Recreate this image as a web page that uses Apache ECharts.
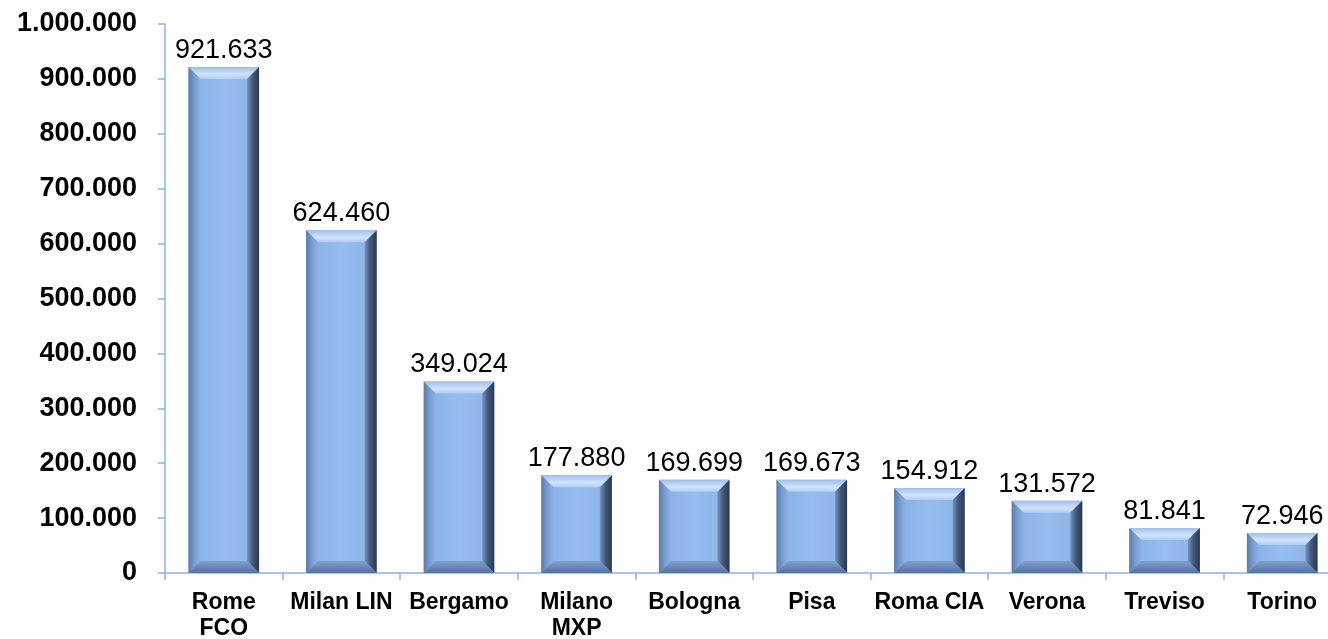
<!DOCTYPE html>
<html>
<head>
<meta charset="utf-8">
<script src="https://cdn.jsdelivr.net/npm/echarts@6/dist/echarts.min.js"></script>
<style>html,body{margin:0;padding:0;background:#fff;}#c{width:1328px;height:639px;}</style>
</head>
<body>
<div id="c"></div>
<script>
const categories = ['Rome\nFCO', 'Milan LIN', 'Bergamo', 'Milano\nMXP', 'Bologna', 'Pisa', 'Roma CIA', 'Verona', 'Treviso', 'Torino'];
const values = [921633, 624460, 349024, 177880, 169699, 169673, 154912, 131572, 81841, 72946];
const yMin = 0, yMax = 1000000, yStep = 100000;

function fmt(n) {
  return String(Math.round(n)).replace(/\B(?=(\d{3})+(?!\d))/g, '.');
}

const G = echarts.graphic;
const chart = echarts.init(document.getElementById('c'));
const axisColor = '#8db4e2';
const font = "'Liberation Sans', Arial, sans-serif";

chart.setOption({
  animation: false,
  grid: { left: 165, top: 24, bottom: 66, right: -13, containLabel: false, outerBoundsMode: 'none' },
  xAxis: {
    type: 'category',
    data: categories,
    boundaryGap: true,
    axisLine: { show: true, lineStyle: { color: axisColor, width: 1.5 } },
    axisTick: { show: true, length: 7, lineStyle: { color: axisColor, width: 1.5 } },
    axisLabel: { color: '#000', fontWeight: 'bold', fontSize: 23, fontFamily: font, margin: 17, lineHeight: 26, interval: 0 }
  },
  yAxis: {
    type: 'value',
    min: yMin, max: yMax, interval: yStep,
    axisLine: { show: true, lineStyle: { color: axisColor, width: 1.5 } },
    axisTick: { show: true, length: 7, lineStyle: { color: axisColor, width: 1.5 } },
    splitLine: { show: false },
    axisLabel: { color: '#000', fontWeight: 'bold', fontSize: 27, fontFamily: font, margin: 28, formatter: v => fmt(v) }
  },
  series: [{
    type: 'custom',
    data: values.map((v, i) => [i, v]),
    encode: { x: 0, y: 1 },
    renderItem: function (params, api) {
      const idx = api.value(0), v = api.value(1);
      const top = api.coord([idx, v]);
      const base = api.coord([idx, 0]);
      const bw = api.size([1, 0])[0] * 0.6;
      const x0 = top[0] - bw / 2, x1 = top[0] + bw / 2, y0 = top[1], y1 = base[1];
      const b = Math.min(12, (y1 - y0) / 2);
      return {
        type: 'group',
        children: [
          { type: 'rect', shape: { x: x0, y: y0, width: bw, height: y1 - y0 },
            style: { fill: new G.LinearGradient(0, 0, 1, 0, [
              { offset: 0, color: '#88aee4' }, { offset: 0.5, color: '#96bdf0' }, { offset: 1, color: '#8cb1e6' }]) } },
          { type: 'polygon', shape: { points: [[x0, y0], [x1, y0], [x1 - b, y0 + b], [x0 + b, y0 + b]] },
            style: { fill: new G.LinearGradient(0, 0, 0, 1, [
              { offset: 0, color: '#9cbfee' }, { offset: 0.6, color: '#d2e4fb' }, { offset: 1, color: '#b0cdf4' }]) } },
          { type: 'polygon', shape: { points: [[x0, y0], [x0 + b, y0 + b], [x0 + b, y1 - b], [x0, y1]] },
            style: { fill: new G.LinearGradient(0, 0, 1, 0, [
              { offset: 0, color: '#5b7aa8' }, { offset: 0.5, color: '#7a9dd0' }, { offset: 1, color: '#8db2e8' }]) } },
          { type: 'polygon', shape: { points: [[x1, y0], [x1 - b, y0 + b], [x1 - b, y1 - b], [x1, y1]] },
            style: { fill: new G.LinearGradient(0, 0, 1, 0, [
              { offset: 0, color: '#7393c2' }, { offset: 0.45, color: '#44597a' }, { offset: 1, color: '#2a3850' }]) } },
          { type: 'polygon', shape: { points: [[x0, y1], [x0 + b, y1 - b], [x1 - b, y1 - b], [x1, y1]] },
            style: { fill: new G.LinearGradient(0, 0, 0, 1, [
              { offset: 0, color: '#809fd0' }, { offset: 1, color: '#56729e' }]) } },
          { type: 'text', style: { text: fmt(v), x: top[0], y: y0 - 3, align: 'center', verticalAlign: 'bottom',
            font: '27px ' + font, fill: '#000' } }
        ]
      };
    }
  }]
});
</script>
</body>
</html>
